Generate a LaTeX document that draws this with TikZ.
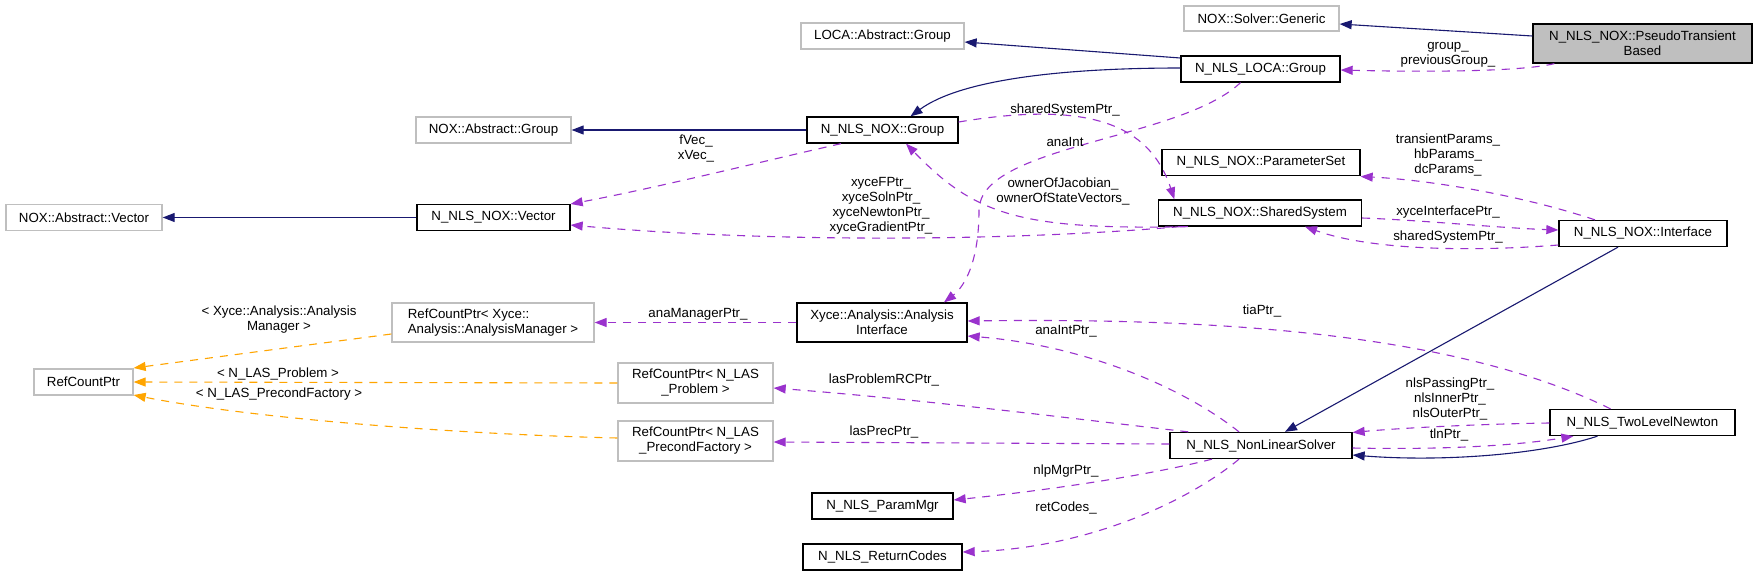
\documentclass[tikz,border=0pt]{standalone}
\usepackage{fontspec}
\setmainfont{Liberation Sans}
\usepackage{xcolor}
\usepackage{tikz}
\usetikzlibrary{arrows.meta,calc,positioning}
\definecolor{edgenavy}{HTML}{191970}
\definecolor{edgeorchid}{HTML}{9A32CD}
\definecolor{edgeorange}{HTML}{FFA500}
\definecolor{boxgray}{HTML}{BFBFBF}
\newcommand{\dxfont}{\fontsize{13.3}{15}\selectfont}

\begin{document}
\begin{tikzpicture}[>=Triangle,x=1pt,y=-1pt,font=\dxfont,line width=1.1pt]
\tikzset{cls/.style={draw=black,line width=1.3pt,rectangle,inner sep=0pt,align=center,minimum height=26pt}}
\tikzset{ext/.style={cls,draw=boxgray}}
\tikzset{inh/.style={draw=edgenavy,-{Triangle[length=12pt,width=9pt]}}}
\tikzset{use/.style={draw=edgeorchid,dash pattern=on 8pt off 7pt,-{Triangle[length=12pt,width=9pt]}}}
\tikzset{tpl/.style={use,draw=edgeorange}}
\tikzset{lbl/.style={align=center,inner sep=0pt}}
\useasboundingbox[fill=white] (0,0) rectangle (1757,576);
% classes
\node[cls,fill=boxgray,minimum width=219pt,minimum height=39pt] (ptb) at (1642.5,43.5) {N\_NLS\_NOX::PseudoTransient\\Based};
\node[ext,minimum width=155pt,minimum height=25pt] (solvgen) at (1261.5,18.5) {NOX::Solver::Generic};
\node[cls,minimum width=159pt] (locagrp) at (1260.5,69) {N\_NLS\_LOCA::Group};
\node[ext,minimum width=163pt] (locaabs) at (882.5,36) {LOCA::Abstract::Group};
\node[cls,minimum width=151pt] (noxgrp) at (882.5,130) {N\_NLS\_NOX::Group};
\node[ext,minimum width=155pt] (noxabsgrp) at (493.5,130) {NOX::Abstract::Group};
\node[cls,minimum width=153pt] (noxvec) at (493.5,217.5) {N\_NLS\_NOX::Vector};
\node[ext,minimum width=156pt] (noxabsvec) at (84,217.5) {NOX::Abstract::Vector};
\node[cls,minimum width=198pt] (paramset) at (1261,162.5) {N\_NLS\_NOX::ParameterSet};
\node[cls,minimum width=203pt] (shared) at (1260,213) {N\_NLS\_NOX::SharedSystem};
\node[cls,minimum width=168pt] (iface) at (1643,233.5) {N\_NLS\_NOX::Interface};
\node[ext,minimum width=99pt] (rcp) at (83.5,382) {RefCountPtr};
\node[ext,align=left,minimum width=202pt,minimum height=39pt] (rcpmgr) at (493,322.5) {RefCountPtr< Xyce::\\Analysis::AnalysisManager >};
\node[cls,minimum width=170pt,minimum height=39pt] (anaint) at (882,322.5) {Xyce::Analysis::Analysis\\Interface};
\node[ext,minimum width=155pt,minimum height=40pt] (rcpprob) at (695.5,383) {RefCountPtr< N\_LAS\\\_Problem >};
\node[ext,minimum width=155pt,minimum height=40pt] (rcpprec) at (695.5,441) {RefCountPtr< N\_LAS\\\_PrecondFactory >};
\node[cls,minimum width=141pt] (parammgr) at (882.5,506) {N\_NLS\_ParamMgr};
\node[cls,minimum width=159pt] (retcodes) at (882.5,557) {N\_NLS\_ReturnCodes};
\node[cls,minimum width=182pt] (nlsolver) at (1261,445.5) {N\_NLS\_NonLinearSolver};
\node[cls,minimum width=185pt] (tln) at (1642.5,422.5) {N\_NLS\_TwoLevelNewton};
% inheritance
\draw[inh] ($(ptb.west)+(0,-7.5)$) -- ($(solvgen.east)+(0,5.5)$);
\draw[inh] ($(locagrp.west)+(0,-11)$) -- ($(locaabs.east)+(0,6)$);
\draw[inh] ($(locagrp.west)+(0,-1)$) .. controls (1060,68) and (960,80) .. ($(noxgrp.north)+(28,0)$);
\draw[inh] (noxgrp.west) -- (noxabsgrp.east);
\draw[inh] (noxvec.west) -- (noxabsvec.east);
\draw[inh] ($(iface.south)+(-25,0)$) -- ($(nlsolver.north)+(24,0)$);
\draw[inh] ($(tln.south)+(-45,0)$) .. controls (1540,455) and (1440,462) .. ($(nlsolver.east)+(0,9.5)$);
% usage
\draw[use] ($(ptb.south west)+(22,0)$) .. controls (1520,72) and (1420,72) .. ($(locagrp.east)+(0,1)$);
\draw[use] ($(noxgrp.south)+(-41.5,0)$) .. controls (760,162) and (660,187) .. ($(noxvec.east)+(0,-13.5)$);
\draw[use] ($(shared.south west)+(22,0)$) .. controls (1000,242) and (760,242) .. ($(noxvec.east)+(0,7.5)$);
\draw[use] ($(noxgrp.east)+(0,-8)$) .. controls (1090,100) and (1150,125) .. ($(shared.north west)+(16.5,0)$);
\draw[use] ($(locagrp.south)+(-20,0)$) .. controls (1180,140) and (980,145) .. (979,210) .. controls (979,270) and (960,290) .. ($(anaint.north)+(62,0)$);
\draw[use] ($(shared.south west)+(30,0)$) .. controls (1020,230) and (975,215) .. ($(noxgrp.south)+(23.5,0)$);
\draw[use] ($(iface.north)+(-48,0)$) .. controls (1520,195) and (1430,180) .. ($(paramset.east)+(0,14)$);
\draw[use] ($(shared.east)+(0,5)$) .. controls (1420,220) and (1500,228) .. ($(iface.west)+(0,-3.5)$);
\draw[use] ($(iface.west)+(0,11.5)$) .. controls (1470,252) and (1370,250) .. ($(shared.south)+(45,0)$);
\draw[use] (anaint.west) -- (rcpmgr.east);
\draw[use] ($(tln.north)+(-32,0)$) .. controls (1450,330) and (1200,318) .. ($(anaint.east)+(0,-1.5)$);
\draw[use] ($(nlsolver.north)+(-22,0)$) .. controls (1180,385) and (1080,345) .. ($(anaint.east)+(0,13.5)$);
\draw[use] ($(nlsolver.north west)+(19,0)$) .. controls (1100,422) and (930,400) .. ($(rcpprob.east)+(0,5)$);
\draw[use] ($(nlsolver.west)+(0,-1.5)$) -- ($(rcpprec.east)+(0,1)$);
\draw[use] ($(nlsolver.south)+(-49,0)$) .. controls (1150,475) and (1050,490) .. ($(parammgr.east)+(0,-6)$);
\draw[use] ($(nlsolver.south)+(-22,0)$) .. controls (1190,500) and (1090,548) .. ($(retcodes.east)+(0,-5)$);
\draw[use] ($(tln.west)+(0,0.5)$) .. controls (1480,424) and (1400,428) .. ($(nlsolver.east)+(0,-13)$);
\draw[use] ($(nlsolver.east)+(0,2.5)$) .. controls (1450,450) and (1520,445) .. ($(tln.south west)+(24,0)$);
% templates
\draw[tpl] ($(rcpmgr.west)+(0,11.5)$) -- ($(rcp.east)+(0,-14)$);
\draw[tpl] (rcpprob.west) -- (rcp.east);
\draw[tpl] ($(rcpprec.west)+(0,-3)$) .. controls (450,434) and (250,418) .. ($(rcp.east)+(0,13)$);
% labels
\node[lbl] (lgroup) at (1448,55) {group\_\\previousGroup\_};
\node[lbl] (lfvec) at (696,149) {fVec\_\\xVec\_};
\node[lbl] (lxyce) at (881,205.5) {xyceFPtr\_\\xyceSolnPtr\_\\xyceNewtonPtr\_\\xyceGradientPtr\_};
\node[lbl] (lshared) at (1065,110) {sharedSystemPtr\_};
\node[lbl] (lanaint) at (1065,142) {anaInt};
\node[lbl] (lowner) at (1063,191) {ownerOfJacobian\_\\ownerOfStateVectors\_};
\node[lbl] (lparams) at (1448,155) {transientParams\_\\hbParams\_\\dcParams\_};
\node[lbl] (lxiface) at (1448,212) {xyceInterfacePtr\_};
\node[lbl] (lshared2) at (1448,237) {sharedSystemPtr\_};
\node[lbl] (lmgr) at (279,319.5) {< Xyce::Analysis::Analysis\\Manager >};
\node[lbl] (lprob) at (278,374) {< N\_LAS\_Problem >};
\node[lbl] (lprec) at (279,394) {< N\_LAS\_PrecondFactory >};
\node[lbl] (lanamgr) at (698,314) {anaManagerPtr\_};
\node[lbl] (ltia) at (1262,311) {tiaPtr\_};
\node[lbl] (lanaintptr) at (1066,331) {anaIntPtr\_};
\node[lbl] (llasprob) at (884,380) {lasProblemRCPtr\_};
\node[lbl] (llasprec) at (884,432) {lasPrecPtr\_};
\node[lbl] (lnlp) at (1066,471) {nlpMgrPtr\_};
\node[lbl] (lret) at (1066,508) {retCodes\_};
\node[lbl] (lnls) at (1450,399) {nlsPassingPtr\_\\nlsInnerPtr\_\\nlsOuterPtr\_};
\node[lbl] (ltln) at (1449,435) {tlnPtr\_};
\end{tikzpicture}
\end{document}
